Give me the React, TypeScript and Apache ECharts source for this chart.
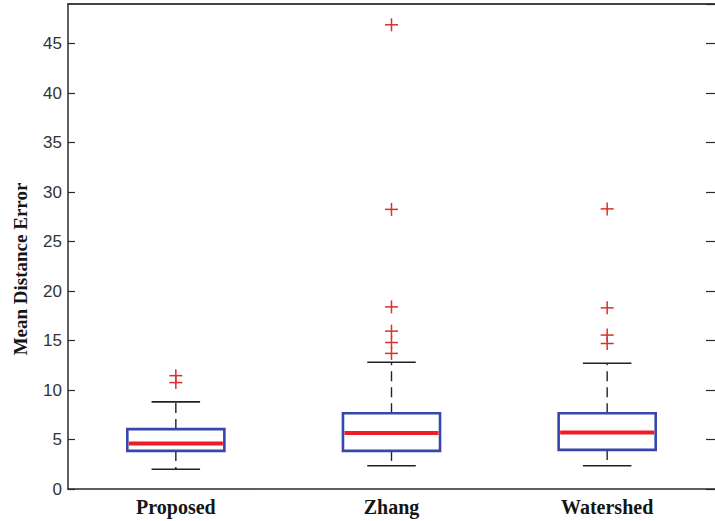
import React, { useEffect, useRef } from "react";
import * as echarts from "echarts";

const categories = ["Proposed", "Zhang", "Watershed"];
const lowerWhisker = [2.0, 2.35, 2.35];
const q1Values = [3.85, 3.85, 3.95];
const medianValues = [4.6, 5.65, 5.7];
const q3Values = [6.05, 7.65, 7.65];
const upperWhisker = [8.8, 12.8, 12.7];
const outliersProposed = [10.75, 11.45];
const outliersZhang = [13.7, 14.8, 15.95, 18.4, 28.25, 46.9];
const outliersWatershed = [14.7, 15.55, 18.3, 28.3];
const yTicks = { min: 0, max: 49, interval: 5 };

export default function App() {
  const ref = useRef<HTMLDivElement>(null);
  useEffect(() => {
    if (!ref.current) return;
    const chart = echarts.init(ref.current, undefined, { renderer: "svg" });
    const boxData = categories.map((_, i) => [
      i,
      lowerWhisker[i],
      q1Values[i],
      medianValues[i],
      q3Values[i],
      upperWhisker[i],
    ]);
    const outlierLists = [outliersProposed, outliersZhang, outliersWatershed];
    const outlierData: number[][] = [];
    outlierLists.forEach((list, i) => list.forEach((v) => outlierData.push([i, v])));

    const axisColor = "#2a2a2a";
    const option: any = {
      animation: false,
      backgroundColor: "#ffffff",
      grid: { left: 68, top: 4, width: 650, height: 485 },
      xAxis: [
        {
          type: "category",
          data: categories,
          position: "bottom",
          axisLine: { show: true, onZero: false, lineStyle: { color: axisColor, width: 1.5 } },
          axisTick: { show: false },
          axisLabel: {
            fontFamily: "Liberation Serif",
            fontWeight: "bold",
            fontSize: 20,
            color: "#151515",
            margin: 8,
          },
          splitLine: { show: false },
        },
        {
          type: "category",
          data: categories,
          position: "top",
          axisLine: { show: true, onZero: false, lineStyle: { color: "#444", width: 2 } },
          axisTick: { show: false },
          axisLabel: { show: false },
          splitLine: { show: false },
        },
      ],
      yAxis: [
        {
          type: "value",
          position: "left",
          min: yTicks.min,
          max: yTicks.max,
          interval: yTicks.interval,
          axisLine: { show: true, lineStyle: { color: axisColor, width: 1.5 } },
          axisTick: { show: true, inside: true, length: 7, lineStyle: { color: axisColor, width: 1.2 } },
          axisLabel: {
            fontFamily: "Liberation Sans",
            fontSize: 17,
            color: "#333",
            margin: 6,
            showMaxLabel: false,
          },
          splitLine: { show: false },
        },
        {
          type: "value",
          position: "right",
          min: yTicks.min,
          max: yTicks.max,
          interval: yTicks.interval,
          axisLine: { show: false },
          axisTick: { show: true, inside: true, length: 9, lineStyle: { color: axisColor, width: 1.2 } },
          axisLabel: { show: false },
          splitLine: { show: false },
        },
      ],
      graphic: [
        {
          type: "text",
          x: 20,
          y: 269,
          rotation: Math.PI / 2,
          style: {
            text: "Mean Distance Error",
            font: "bold 19px 'Liberation Serif'",
            fill: "#151515",
            align: "center",
            verticalAlign: "middle",
          },
        },
      ],
      series: [
        {
          type: "custom",
          xAxisIndex: 0,
          yAxisIndex: 0,
          data: boxData,
          encode: { x: 0, y: [1, 2, 3, 4, 5] },
          renderItem: (params: any, api: any) => {
            const idx = api.value(0);
            const low = api.coord([idx, api.value(1)]);
            const q1 = api.coord([idx, api.value(2)]);
            const med = api.coord([idx, api.value(3)]);
            const q3 = api.coord([idx, api.value(4)]);
            const high = api.coord([idx, api.value(5)]);
            const band = api.size([1, 0])[0];
            const bw = band * 0.45;
            const cw = bw / 2;
            const cx = q1[0];
            const whiskerStyle = { stroke: "#222", lineWidth: 1.4, lineDash: [10, 6] };
            const capStyle = { stroke: "#222", lineWidth: 1.6 };
            return {
              type: "group",
              children: [
                { type: "line", shape: { x1: cx, y1: q3[1], x2: cx, y2: high[1] }, style: whiskerStyle },
                { type: "line", shape: { x1: cx, y1: q1[1], x2: cx, y2: low[1] }, style: whiskerStyle },
                { type: "line", shape: { x1: cx - cw / 2, y1: high[1], x2: cx + cw / 2, y2: high[1] }, style: capStyle },
                { type: "line", shape: { x1: cx - cw / 2, y1: low[1], x2: cx + cw / 2, y2: low[1] }, style: capStyle },
                {
                  type: "rect",
                  shape: { x: cx - bw / 2, y: q3[1], width: bw, height: q1[1] - q3[1] },
                  style: { fill: "#ffffff", stroke: "#3547ad", lineWidth: 2.6 },
                },
                {
                  type: "line",
                  shape: { x1: cx - bw / 2 + 1.5, y1: med[1], x2: cx + bw / 2 - 1.5, y2: med[1] },
                  style: { stroke: "#ee1c24", lineWidth: 4 },
                },
              ],
            };
          },
          z: 2,
        },
        {
          type: "custom",
          xAxisIndex: 0,
          yAxisIndex: 0,
          data: outlierData,
          encode: { x: 0, y: 1 },
          renderItem: (params: any, api: any) => {
            const p = api.coord([api.value(0), api.value(1)]);
            const h = 6.5;
            const st = { stroke: "#d9302a", lineWidth: 1.5 };
            return {
              type: "group",
              children: [
                { type: "line", shape: { x1: p[0] - h, y1: p[1], x2: p[0] + h, y2: p[1] }, style: st },
                { type: "line", shape: { x1: p[0], y1: p[1] - h, x2: p[0], y2: p[1] + h }, style: st },
              ],
            };
          },
          z: 3,
        },
      ],
    };
    chart.setOption(option);
    return () => chart.dispose();
  }, []);
  return (
    <div
      ref={ref}
      style={{ position: "fixed", left: 0, top: 0, width: 715, height: 521, background: "#fff" }}
    />
  );
}
